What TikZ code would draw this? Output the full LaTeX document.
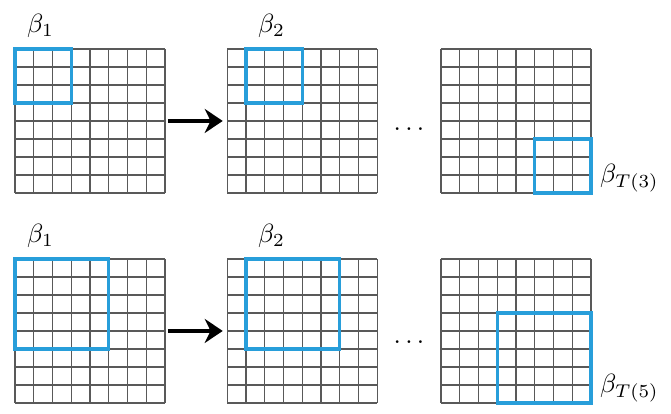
\documentclass[tikz,border=0pt]{standalone}
\usetikzlibrary{arrows.meta}
\definecolor{winblue}{RGB}{40,158,218}
% 8x8 grid of cells inside the panel node #1
\newcommand{\cellgrid}[1]{%
  \begin{scope}[shift={(#1.south west)}]
    \foreach \k in {0,...,8} {
      \draw[gridline] (\k*0.25,0) -- (\k*0.25,1.92);
      \draw[gridline] (0,\k*0.24) -- (2,\k*0.24);
    }
  \end{scope}}
\begin{document}
\begin{tikzpicture}[
    panel/.style={minimum width=2cm,minimum height=1.92cm,inner sep=0pt,outer sep=0pt},
    gridline/.style={draw=black!65,line width=0.45pt},
    win/.style={draw=winblue,line width=1.3pt,inner sep=0pt,outer sep=0pt},
    lab/.style={inner sep=1pt},
    flow/.style={line width=1.6pt,-{Stealth[length=2.4mm,width=3.2mm]}}]
    \useasboundingbox (0,0) rectangle (8.947,5.52);
    % top row: 3x3 window
    \node[panel] (t1) at (1.2,3.907) {};
    \node[panel] (t2) at (4.03,3.907) {};
    \node[panel] (t3) at (6.88,3.907) {};
    \cellgrid{t1}
    \cellgrid{t2}
    \cellgrid{t3}
    \node[win,minimum width=0.75cm,minimum height=0.72cm,anchor=north west] (tw1) at (t1.north west) {};
    \node[win,minimum width=0.75cm,minimum height=0.72cm,anchor=north west] (tw2) at ([xshift=0.25cm]t2.north west) {};
    \node[win,minimum width=0.75cm,minimum height=0.72cm,anchor=south east] (tw3) at (t3.south east) {};
    \node[lab,anchor=south west] (tl1) at ([shift={(0.12,0.11)}]tw1.north west) {$\beta_1$};
    \node[lab,anchor=south west] (tl2) at ([shift={(0.12,0.11)}]tw2.north west) {$\beta_2$};
    \node[lab,anchor=south west] (tl3) at ([shift={(0.08,-0.03)}]tw3.south east) {$\beta_{T(3)}$};
    \draw[flow] ([xshift=0.04cm]t1.east) -- ([xshift=-0.06cm]t2.west);
    \node (td) at (5.453,3.80) {$\dots$};
    % bottom row: 5x5 window
    \node[panel] (b1) at (1.2,1.107) {};
    \node[panel] (b2) at (4.03,1.107) {};
    \node[panel] (b3) at (6.88,1.107) {};
    \cellgrid{b1}
    \cellgrid{b2}
    \cellgrid{b3}
    \node[win,minimum width=1.25cm,minimum height=1.2cm,anchor=north west] (bw1) at (b1.north west) {};
    \node[win,minimum width=1.25cm,minimum height=1.2cm,anchor=north west] (bw2) at ([xshift=0.25cm]b2.north west) {};
    \node[win,minimum width=1.25cm,minimum height=1.2cm,anchor=south east] (bw3) at (b3.south east) {};
    \node[lab,anchor=south west] (bl1) at ([shift={(0.12,0.11)}]bw1.north west) {$\beta_1$};
    \node[lab,anchor=south west] (bl2) at ([shift={(0.12,0.11)}]bw2.north west) {$\beta_2$};
    \node[lab,anchor=south west] (bl3) at ([shift={(0.08,-0.03)}]bw3.south east) {$\beta_{T(5)}$};
    \draw[flow] ([xshift=0.04cm]b1.east) -- ([xshift=-0.06cm]b2.west);
    \node (bd) at (5.453,0.96) {$\dots$};
\end{tikzpicture}
\end{document}
